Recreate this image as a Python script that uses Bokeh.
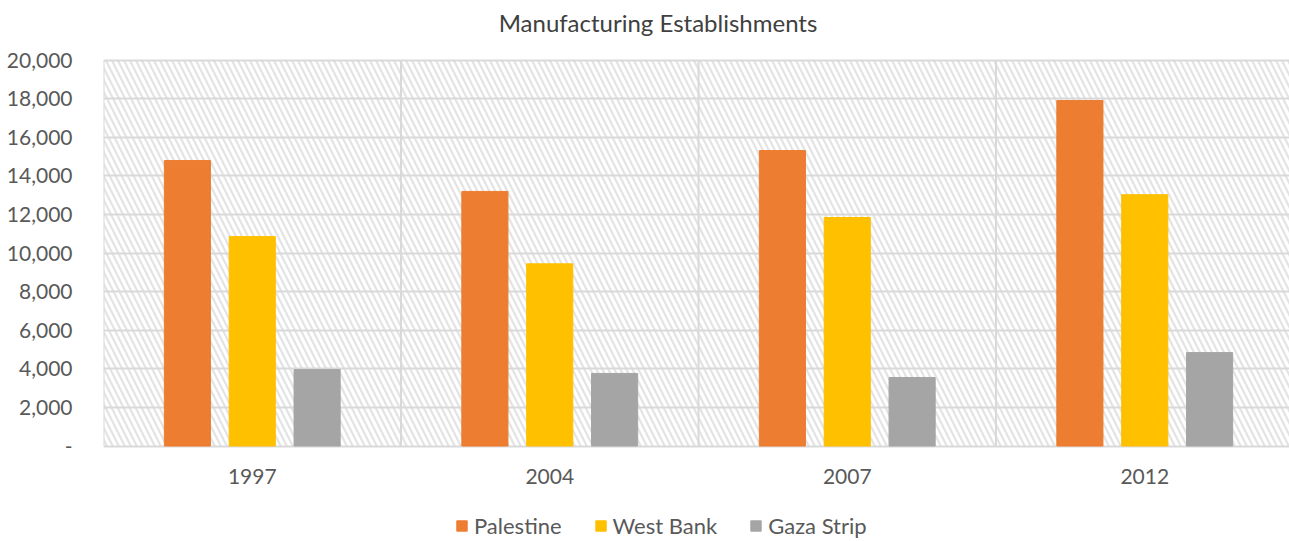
from bokeh.plotting import figure
from bokeh.models import (Range1d, FixedTicker, Legend, LegendItem, Label,
                          NumeralTickFormatter, ColumnDataSource)
from bokeh.core.properties import value
from bokeh.transform import dodge
from bokeh.embed import file_html
from bokeh.resources import INLINE

years = ["1997", "2004", "2007", "2012"]
palestine = [14790, 13190, 15310, 17900]
west_bank = [10850, 9440, 11840, 13020]
gaza_strip = [3960, 3760, 3550, 4840]
series_names = ["Palestine", "West Bank", "Gaza Strip"]
colors = ["#ED7D31", "#FFC000", "#A5A5A5"]
y_ticks = list(range(0, 20001, 2000))
y_max = y_ticks[-1]

FONT = "Lato"
TXT = "#595959"
GRID = "#D9D9D9"
W, H = 1289, 541
cat_px = 297.5                 # pixel width of one category
left_px = 103                  # plot area left edge
top_px, zero_px = 59.5, 445.5  # pixel rows of y_max and of 0
u_per_px = y_max / (zero_px - top_px)

xc = [i + 0.5 for i in range(len(years))]
src = ColumnDataSource(dict(x=xc, p=palestine, w=west_bank, g=gaza_strip))

p = figure(width=W, height=H, output_backend="svg", toolbar_location=None,
           x_range=Range1d(0, (W - left_px) / cat_px),
           y_range=Range1d(-(H - zero_px) * u_per_px, y_max + top_px * u_per_px),
           x_axis_location=None,
           min_border_left=left_px, min_border_right=0,
           min_border_top=0, min_border_bottom=0)
p.outline_line_color = None
p.background_fill_color = "white"
p.xgrid.visible = False

# hatched plot-area background
p.quad(left=0, right=len(years), bottom=0, top=y_max, fill_color="white",
       line_color=None, hatch_pattern="\\", hatch_color="#E3E3E3",
       hatch_scale=12, hatch_weight=2.2, level="image")

# vertical category separators
bounds = list(range(len(years) + 1))
p.segment(x0=bounds, x1=bounds, y0=[0] * len(bounds), y1=[y_max] * len(bounds),
          line_color=GRID, line_width=2, level="underlay")

# horizontal grid
p.ygrid.ticker = FixedTicker(ticks=y_ticks)
p.ygrid.grid_line_color = GRID
p.ygrid.grid_line_width = 2

offsets = [-0.218, 0.0, 0.218]
fields = ["p", "w", "g"]
rends = []
for f, off, c in zip(fields, offsets, colors):
    r = p.vbar(x=dodge("x", off), top=f, width=0.155, source=src,
               fill_color=c, line_color=c)
    rends.append(r)

# category labels
p.text(x=xc, y=[0] * len(xc), text=years, y_offset=23, text_align="center",
       text_baseline="top", text_font=value(FONT), text_font_size="21px",
       text_color=TXT)

# y axis
ax = p.yaxis[0]
ax.ticker = FixedTicker(ticks=y_ticks)
ax.formatter = NumeralTickFormatter(format="0,0")
ax.major_label_overrides = {0: "-"}
ax.axis_line_color = None
ax.major_tick_line_color = None
ax.minor_tick_line_color = None
ax.major_label_text_font = FONT
ax.major_label_text_font_size = "21px"
ax.major_label_text_color = TXT
ax.major_label_standoff = 25

# title
title = Label(x=(657.5 - left_px) / cat_px, y=y_max + (top_px - 22) * u_per_px,
              text="Manufacturing Establishments", text_align="center",
              text_baseline="middle", text_font=FONT, text_font_size="24px",
              text_color="#404040")
p.add_layout(title)

legend = Legend(items=[LegendItem(label=n, renderers=[r]) for n, r in zip(series_names, rends)],
                orientation="horizontal", location=(352, 2),
                glyph_width=13, glyph_height=13, label_standoff=6, spacing=32,
                padding=0, margin=0, border_line_color=None,
                background_fill_alpha=0, label_text_font=FONT,
                label_text_font_size="22px", label_text_color=TXT,
                label_height=22)
p.add_layout(legend)

open("out.html", "w").write(file_html(p, INLINE))
